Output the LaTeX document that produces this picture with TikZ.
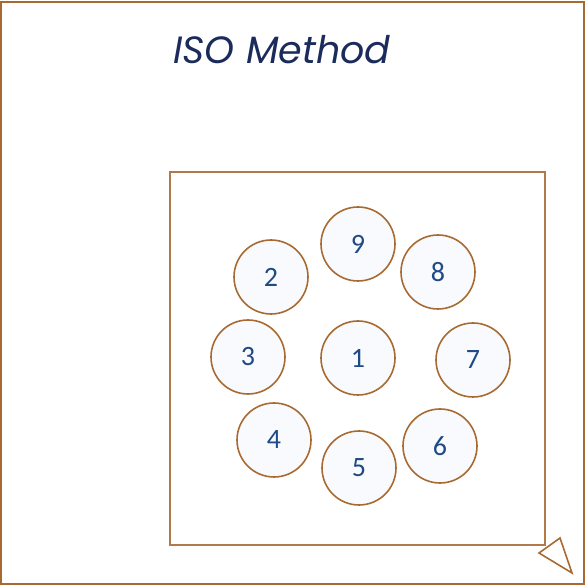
\documentclass[tikz,border=0pt]{standalone}
\usepackage{fontspec}
\setmainfont{Carlito}
\newfontfamily\titlefont{Poppins}
\definecolor{frame}{HTML}{A86A30}
\definecolor{boxline}{HTML}{B07A4A}
\definecolor{disc}{HTML}{F8FAFD}
\definecolor{digit}{HTML}{1F4A85}
\definecolor{heading}{HTML}{1A2B5C}
\begin{document}
\begin{tikzpicture}[x=1pt,y=1pt,
  pin/.style={circle,draw=frame,fill=disc,line width=1.6pt,minimum size=74pt,inner sep=0pt,
    text=digit,font=\fontsize{28}{28}\selectfont}]
\useasboundingbox (0,0) rectangle (585,585);
% outer frame
\draw[frame,line width=2pt] (1,1) rectangle (584,583);
% title
\node[text=heading,font=\titlefont\itshape\fontsize{38}{38}\selectfont] (title) at (282,535) {ISO Method};
% inner test area
\draw[boxline,line width=1.3pt] (170,40) rectangle (545,413);
% bolt positions
\node[pin] (p9) at (358,341) {9};
\node[pin] (p2) at (271,308) {2};
\node[pin] (p8) at (438,313) {8};
\node[pin] (p3) at (248,228) {3};
\node[pin] (p1) at (358,227) {1};
\node[pin] (p7) at (473,225) {7};
\node[pin] (p4) at (274,145) {4};
\node[pin] (p5) at (359,117) {5};
\node[pin] (p6) at (440,139) {6};
% corner marker
\draw[frame,line width=1.6pt,line join=miter] (539,32) -- (560,47) -- (572,12) -- cycle;
\end{tikzpicture}
\end{document}
